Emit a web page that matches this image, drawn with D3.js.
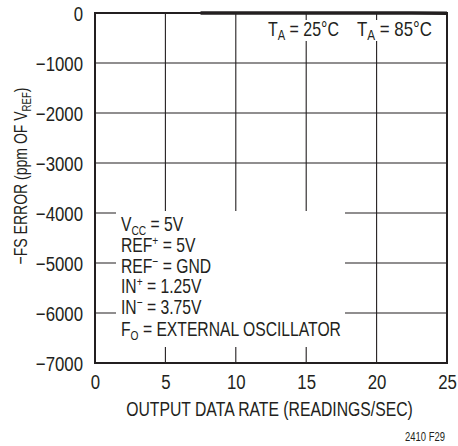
<!DOCTYPE html>
<html><head><meta charset="utf-8">
<script src="https://cdn.jsdelivr.net/npm/d3@7"></script>
<style>
body{margin:0;background:#fff;}
svg text{font-family:"Liberation Sans",Arial,sans-serif;fill:#231f20;}
</style></head><body>
<svg id="c" width="458" height="446"></svg>
<script>
const xTicks = [0,5,10,15,20,25];
const yTicks = [0,-1000,-2000,-3000,-4000,-5000,-6000,-7000];
const series25X = [7.5, 25];
const series25Y = [0, 0];
const series85X = [7.5, 22.5, 25];
const series85Y = [0, 0, -10];

const svg = d3.select("#c");
const L=95,R=447,T=13,B=363;
const x = d3.scaleLinear().domain([0,25]).range([L,R]);
const y = d3.scaleLinear().domain([-7000,0]).range([B,T]);
const ink="#231f20";
const NARROW=0.8;

// grid
svg.append("g").selectAll("line").data(xTicks.slice(1,-1)).join("line")
 .attr("x1",d=>x(d)).attr("x2",d=>x(d)).attr("y1",T).attr("y2",B)
 .attr("stroke",ink).attr("stroke-width",1.1);
svg.append("g").selectAll("line").data(yTicks.slice(1,-1)).join("line")
 .attr("x1",L).attr("x2",R).attr("y1",d=>y(d)).attr("y2",d=>y(d))
 .attr("stroke",ink).attr("stroke-width",1.1);

// white boxes behind annotations
svg.append("rect").attr("x",262).attr("y",20).attr("width",176).attr("height",21).attr("fill","#fff");
svg.append("rect").attr("x",116).attr("y",211).attr("width",229).attr("height",136).attr("fill","#fff");

// frame
svg.append("rect").attr("x",L).attr("y",T).attr("width",R-L).attr("height",B-T)
 .attr("fill","none").attr("stroke",ink).attr("stroke-width",2);

// data lines
const line = d3.line().x(d=>x(d[0])).y(d=>y(d[1]));
svg.append("path").datum(d3.zip(series25X,series25Y)).attr("d",line)
 .attr("fill","none").attr("stroke",ink).attr("stroke-width",3);
svg.append("path").datum(d3.zip(series85X,series85Y)).attr("d",line)
 .attr("fill","none").attr("stroke",ink).attr("stroke-width",3);

// axes tick labels
const xAxis = d3.axisBottom(x).tickValues(xTicks).tickSize(0).tickPadding(0).tickFormat(d3.format("d"));
const gx = svg.append("g").attr("transform",`translate(0,${B})`).call(xAxis);
gx.select(".domain").remove();
gx.selectAll("text").attr("font-size",21).attr("font-family",null).attr("fill",ink)
  .attr("dy",null).attr("y",0).attr("transform",`translate(0,26) scale(${NARROW},1)`);

const yAxis = d3.axisLeft(y).tickValues(yTicks).tickSize(0).tickPadding(0)
 .tickFormat(d=>d<0?"\u2212"+Math.abs(d):String(d));
const gy = svg.append("g").attr("transform",`translate(${L},0)`).call(yAxis);
gy.select(".domain").remove();
gy.selectAll("text").attr("font-size",21).attr("font-family",null).attr("fill",ink)
  .attr("x",0).attr("dy",null).attr("y",7).attr("transform",`translate(-12,0) scale(${NARROW},1)`);

// helper: fit text width by horizontal scaling
function fit(t, w, tx, ty, rot){
  const bw = t.node().getBBox().width;
  const s = w/bw;
  t.attr("transform",`translate(${tx},${ty})${rot?" rotate("+rot+")":""} scale(${s},1)`);
}

const xt = svg.append("text").attr("text-anchor","middle").attr("font-size",21).text("OUTPUT DATA RATE (READINGS/SEC)");
fit(xt, 287, 269.5, 416);

const yt = svg.append("text").attr("text-anchor","middle").attr("font-size",19);
yt.append("tspan").text("\u2212FS ERROR (ppm OF V");
yt.append("tspan").attr("font-size",13).attr("dy",4).text("REF");
yt.append("tspan").attr("dy",-4).text(")");
fit(yt, 177, 27, 176, -90);

// series labels
function sub(t, main, s, rest){
  t.append("tspan").text(main);
  t.append("tspan").attr("font-size",14).attr("dy",4).text(s);
  t.append("tspan").attr("dy",-4).text(rest);
}
const t25 = svg.append("text").attr("font-size",20);
sub(t25,"T","A"," = 25°C"); fit(t25, 71, 268, 36);
const t85 = svg.append("text").attr("font-size",20);
sub(t85,"T","A"," = 85°C"); fit(t85, 75, 357, 36);

// conditions
const cond = [
 ["V","CC","sub"," = 5V"],
 ["REF","+","sup"," = 5V"],
 ["REF","\u2212","sup"," = GND"],
 ["IN","+","sup"," = 1.25V"],
 ["IN","\u2212","sup"," = 3.75V"],
 ["F","O","sub"," = EXTERNAL OSCILLATOR"]
];
const base=[231,252,273,293,314,336];
let condScale = null;
cond.slice().reverse().forEach((c,ri)=>{
  const i = cond.length-1-ri;
  const t = svg.append("text").attr("font-size",20);
  t.append("tspan").text(c[0]);
  const off = c[2]==="sub"?4:-7;
  t.append("tspan").attr("font-size",13).attr("dy",off).text(c[1]);
  t.append("tspan").attr("dy",-off).text(c[3]);
  if(condScale===null){ condScale = 220/t.node().getBBox().width; }
  t.attr("transform",`translate(121,${base[i]}) scale(${condScale},1)`);
});

const note = svg.append("text").attr("text-anchor","end").attr("font-size",13).text("2410 F29");
fit(note, 40, 445, 441);
</script></body></html>
